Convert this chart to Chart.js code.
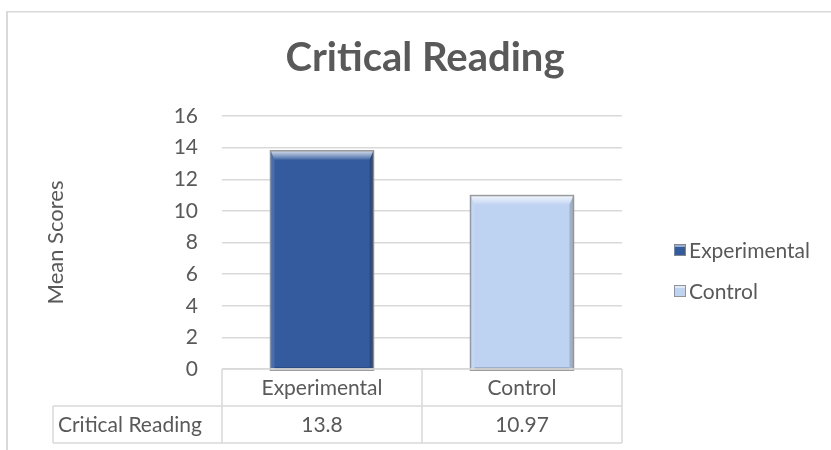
<!DOCTYPE html>
<html>
<head>
  <title>Critical Reading</title>
  <script src="https://cdn.jsdelivr.net/npm/chart.js"></script>
  <style>
    body { margin: 0; background: #fff; }
    #chart { display: block; }
  </style>
</head>
<body>
  <canvas id="chart" width="831" height="450"></canvas>
  <script>
    const chartTitle = "Critical Reading";
    const categories = ["Experimental", "Control"];
    const meanScores = [13.8, 10.97];
    const tableRowLabel = "Critical Reading";
    const barColors = ["#335b9e", "#bed2f1"];
    const yTickMin = 0, yTickMax = 16, yTickStep = 2;

    const textColor = "#595959";
    const lineColor = "#d9d9d9";
    const fontFamily = "Lato, 'Open Sans', sans-serif";

    // bevel look on the bars (Excel style)
    const bevelPlugin = {
      id: "bevel",
      afterDatasetsDraw(chart) {
        const ctx = chart.ctx;
        chart.getDatasetMeta(0).data.forEach(bar => {
          const p = bar.getProps(["x", "y", "base", "width"], true);
          const l = p.x - p.width / 2, r = p.x + p.width / 2, t = p.y, b = p.base + 2;
          const d = 9, s = 4;
          ctx.save();
          let g = ctx.createLinearGradient(0, t, 0, t + d);
          g.addColorStop(0, "rgba(255,255,255,0.8)");
          g.addColorStop(1, "rgba(255,255,255,0.08)");
          ctx.fillStyle = g;
          ctx.beginPath();
          ctx.moveTo(l, t); ctx.lineTo(r, t); ctx.lineTo(r - s, t + d); ctx.lineTo(l + s, t + d);
          ctx.closePath(); ctx.fill();
          ctx.fillStyle = "rgba(255,255,255,0.12)";
          ctx.beginPath();
          ctx.moveTo(l, t); ctx.lineTo(l + s, t + d); ctx.lineTo(l + s, b - 3); ctx.lineTo(l, b);
          ctx.closePath(); ctx.fill();
          ctx.fillStyle = "rgba(0,0,0,0.16)";
          ctx.beginPath();
          ctx.moveTo(r, t); ctx.lineTo(r - s, t + d); ctx.lineTo(r - s, b - 3); ctx.lineTo(r, b);
          ctx.closePath(); ctx.fill();
          ctx.fillStyle = "rgba(0,0,0,0.22)";
          ctx.fillRect(l + s, b - 3, r - l - 2 * s, 3);
          ctx.strokeStyle = "rgba(140,140,140,0.85)";
          ctx.lineWidth = 1.5;
          ctx.strokeRect(l, t, r - l, b - t);
          ctx.restore();
        });
      }
    };

    // data table under the plot, legend on the right, chart frame
    const extrasPlugin = {
      id: "extras",
      beforeDraw(chart) {
        const ctx = chart.ctx;
        ctx.save();
        ctx.fillStyle = lineColor;
        ctx.fillRect(6, 11, 2, 439);
        ctx.fillRect(6, 11, 825, 1.5);
        ctx.restore();
      },
      afterDraw(chart) {
        const ctx = chart.ctx;
        const x = chart.scales.x;
        const area = chart.chartArea;
        const rowH = 37;
        const top = area.bottom;
        const step = x.getPixelForValue(1) - x.getPixelForValue(0);
        const tableLeft = 53;
        ctx.save();
        ctx.strokeStyle = lineColor;
        ctx.lineWidth = 1.5;
        // row 1: categories
        ctx.beginPath();
        ctx.moveTo(area.left, top); ctx.lineTo(area.right, top);
        ctx.moveTo(tableLeft, top + rowH); ctx.lineTo(area.right, top + rowH);
        ctx.moveTo(tableLeft, top + 2 * rowH); ctx.lineTo(area.right, top + 2 * rowH);
        ctx.moveTo(tableLeft, top + rowH); ctx.lineTo(tableLeft, top + 2 * rowH);
        categories.forEach((c, i) => {
          const cx = x.getPixelForValue(i) - step / 2;
          ctx.moveTo(cx, top); ctx.lineTo(cx, top + 2 * rowH);
        });
        ctx.moveTo(area.right, top); ctx.lineTo(area.right, top + 2 * rowH);
        ctx.stroke();

        ctx.fillStyle = textColor;
        ctx.font = "21px " + fontFamily;
        ctx.textBaseline = "middle";
        ctx.textAlign = "center";
        categories.forEach((c, i) => {
          const cx = x.getPixelForValue(i);
          ctx.fillText(c, cx, top + rowH / 2 + 1);
          ctx.fillText(String(meanScores[i]), cx, top + rowH * 1.5 + 1);
        });
        ctx.textAlign = "left";
        ctx.fillText(tableRowLabel, tableLeft + 5, top + rowH * 1.5 + 1);

        // legend
        const legendX = 674, legendY = [250, 291];
        categories.forEach((c, i) => {
          const my = legendY[i] - 6;
          ctx.fillStyle = barColors[i];
          ctx.fillRect(legendX, my, 12, 12);
          ctx.fillStyle = "rgba(255,255,255,0.5)";
          ctx.fillRect(legendX + 1, my + 1, 10, 2);
          ctx.strokeStyle = "rgba(140,140,140,0.9)";
          ctx.lineWidth = 1;
          ctx.strokeRect(legendX + 0.5, my + 0.5, 11, 11);
          ctx.fillStyle = textColor;
          ctx.fillText(c, legendX + 15, legendY[i] + 1);
        });
        ctx.restore();
      }
    };

    new Chart(document.getElementById("chart"), {
      type: "bar",
      data: {
        labels: categories,
        datasets: [{
          label: tableRowLabel,
          data: meanScores,
          backgroundColor: barColors,
          borderWidth: 0,
          barPercentage: 0.515,
          categoryPercentage: 1
        }]
      },
      options: {
        responsive: false,
        animation: false,
        layout: { padding: { left: 39, right: 20, top: 10, bottom: 81 } },
        plugins: {
          legend: { display: false },
          tooltip: { enabled: false },
          title: {
            display: true,
            text: chartTitle,
            color: textColor,
            font: { family: fontFamily, size: 40, weight: "bold" },
            padding: { top: 24, bottom: 34 }
          }
        },
        scales: {
          x: { display: false },
          y: {
            min: yTickMin,
            max: yTickMax,
            ticks: { stepSize: yTickStep, color: textColor, font: { family: fontFamily, size: 21 }, padding: 24 },
            grid: { color: lineColor, lineWidth: 1.5, drawTicks: false },
            border: { display: false },
            title: { display: true, text: "Mean Scores", color: textColor, font: { family: fontFamily, size: 22 } },
            afterFit(scale) { scale.width = 183; }
          },
          yRight: {
            position: "right",
            grid: { display: false },
            ticks: { display: false },
            border: { display: false },
            afterFit(scale) { scale.width = 189; }
          }
        }
      },
      plugins: [bevelPlugin, extrasPlugin]
    });
  </script>
</body>
</html>
